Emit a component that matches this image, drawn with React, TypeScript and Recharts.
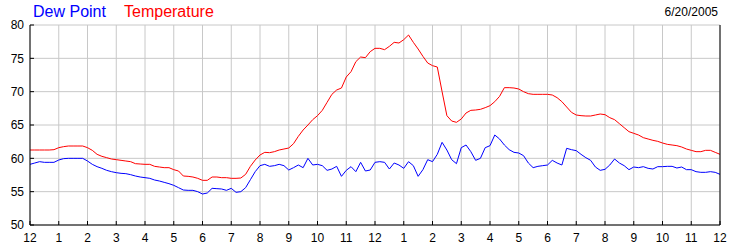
import { LineChart, Line, XAxis, YAxis, CartesianGrid } from 'recharts'

// readings every 10 minutes, midnight to midnight
const STEP_MIN = 10

const temperature = [
  61.25, 61.25, 61.25, 61.25, 61.25, 61.3,
  61.6, 61.75, 61.85, 61.85, 61.85, 61.85,
  61.6, 61.2, 60.6, 60.3, 60.1, 59.9,
  59.8, 59.7, 59.6, 59.5, 59.2, 59.15,
  59.1, 59.1, 58.8, 58.7, 58.6, 58.6,
  58.3, 58.1, 57.35, 57.3, 57.2, 57.0,
  56.7, 56.7, 57.2, 57.2, 57.1, 57.1,
  57.0, 57.0, 57.05, 57.6, 58.8, 59.75,
  60.5, 60.9, 60.85, 61.0, 61.25, 61.4,
  61.55, 62.2, 63.3, 64.25, 65.0, 65.8,
  66.4, 67.2, 68.4, 69.6, 70.25, 70.55,
  72.2, 73.0, 74.5, 75.2, 75.1, 76.0,
  76.5, 76.5, 76.3, 76.8, 77.4, 77.3,
  77.8, 78.5, 77.4, 76.4, 75.3, 74.3,
  73.9, 73.7, 70.0, 66.4, 65.6, 65.4,
  65.9, 66.8, 67.2, 67.25, 67.35, 67.6,
  67.9, 68.5, 69.3, 70.6, 70.6, 70.55,
  70.4, 70.0, 69.7, 69.6, 69.6, 69.6,
  69.6, 69.5, 69.1, 68.5, 67.7, 66.9,
  66.5, 66.4, 66.35, 66.35, 66.5, 66.65,
  66.55, 66.1, 65.8, 65.2, 64.6, 64.0,
  63.75, 63.5, 63.1, 62.9, 62.7, 62.55,
  62.3, 62.1, 62.0, 61.9, 61.7, 61.4,
  61.2, 61.0, 61.0, 61.2, 61.2, 60.9,
  60.6,
]

const dewPoint = [
  59.1, 59.3, 59.5, 59.4, 59.4, 59.4,
  59.75, 59.95, 60.0, 60.0, 60.0, 60.0,
  59.6, 59.1, 58.75, 58.5, 58.2, 58.0,
  57.85, 57.75, 57.7, 57.55, 57.35, 57.2,
  57.1, 57.0, 56.75, 56.6, 56.4, 56.2,
  55.95, 55.6, 55.25, 55.2, 55.2, 55.0,
  54.65, 54.8, 55.5, 55.45, 55.4, 55.2,
  55.5, 54.9, 55.0, 55.6, 56.8, 58.0,
  58.9, 59.1, 58.8, 58.9, 59.1, 58.9,
  58.25, 58.6, 59.0, 58.6, 60.0, 59.0,
  59.1, 58.9, 58.2, 58.4, 58.8, 57.3,
  58.2, 58.75, 58.0, 59.4, 58.1, 58.25,
  59.4, 59.5, 59.4, 58.4, 59.3, 59.0,
  58.5, 59.5, 58.9, 57.3, 58.3, 59.8,
  59.5, 60.6, 62.4, 61.25, 59.8, 59.2,
  61.6, 62.0, 61.0, 59.7, 60.0, 61.6,
  61.9, 63.5, 62.9, 62.0, 61.3, 60.9,
  60.8, 60.4, 59.3, 58.6, 58.8, 58.9,
  59.0, 59.7, 59.3, 59.0, 61.5, 61.3,
  61.15, 60.6, 60.1, 59.7, 58.7, 58.2,
  58.35, 59.0, 59.9, 59.3, 58.9, 58.3,
  58.7, 58.6, 58.75, 58.5, 58.4, 58.75,
  58.75, 58.8, 58.8, 58.55, 58.7, 58.3,
  58.3, 58.0, 57.9, 57.9, 58.0, 57.9,
  57.6,
]

const hourTicks = [0, 1, 2, 3, 4, 5, 6, 7, 8, 9, 10, 11, 12, 13, 14, 15, 16, 17, 18, 19, 20, 21, 22, 23, 24]
const hourLabels = ['12', '1', '2', '3', '4', '5', '6', '7', '8', '9', '10', '11', '12', '1', '2', '3', '4', '5', '6', '7', '8', '9', '10', '11', '12']
const tempTicks = [50, 55, 60, 65, 70, 75, 80]

const data = temperature.map((t, i) => ({
  hour: (i * STEP_MIN) / 60,
  temp: t,
  dew: dewPoint[i],
}))

const FONT = '"Liberation Sans", Arial, sans-serif'
const TICK_LEN = 4
const X_GAP = 8
const Y_GAP = 6

function BottomTick({ x, y, payload }: any) {
  const axisY = y - X_GAP
  return (
    <g>
      <line x1={x} x2={x} y1={axisY} y2={axisY - TICK_LEN} stroke="#000" />
      <text x={x} y={y} dy="0.71em" textAnchor="middle" fontSize={12} fontFamily={FONT} fill="#000">
        {hourLabels[hourTicks.indexOf(payload.value)]}
      </text>
    </g>
  )
}

function TopTick({ x, y }: any) {
  return <line x1={x} x2={x} y1={y} y2={y + TICK_LEN} stroke="#000" />
}

function LeftTick({ x, y, payload }: any) {
  const axisX = x + Y_GAP
  return (
    <g>
      <line x1={axisX} x2={axisX + TICK_LEN} y1={y} y2={y} stroke="#000" />
      <text x={x} y={y} dy="0.355em" textAnchor="end" fontSize={12} fontFamily={FONT} fill="#000">
        {payload.value}
      </text>
    </g>
  )
}

function RightTick({ x, y, payload }: any) {
  const axisX = x - Y_GAP
  return (
    <g>
      <line x1={axisX} x2={axisX - TICK_LEN} y1={y} y2={y} stroke="#000" />
      <text x={x} y={y} dy="0.355em" textAnchor="start" fontSize={12} fontFamily={FONT} fill="#000">
        {payload.value}
      </text>
    </g>
  )
}

export default function App() {
  return (
    <div style={{ position: 'absolute', left: 0, top: 0, width: 750, height: 250, background: '#fff' }}>
      <LineChart width={750} height={250} data={data} margin={{ top: 25, right: 0, bottom: 0, left: 0 }}>
        <CartesianGrid stroke="#c8c8c8" />
        <XAxis
          dataKey="hour"
          type="number"
          domain={[0, 24]}
          ticks={hourTicks}
          height={25}
          tickSize={0}
          tickMargin={X_GAP}
          tickLine={false}
          axisLine={{ stroke: '#000' }}
          tick={<BottomTick />}
          interval={0}
        />
        <XAxis
          xAxisId="top"
          orientation="top"
          dataKey="hour"
          type="number"
          domain={[0, 24]}
          ticks={hourTicks}
          height={0}
          tickSize={0}
          tickMargin={0}
          tickLine={false}
          axisLine={{ stroke: '#000' }}
          tick={<TopTick />}
          interval={0}
        />
        <YAxis
          domain={[50, 80]}
          ticks={tempTicks}
          width={30}
          tickSize={0}
          tickMargin={Y_GAP}
          tickLine={false}
          axisLine={{ stroke: '#000' }}
          tick={<LeftTick />}
          interval={0}
        />
        <YAxis
          yAxisId="right"
          orientation="right"
          domain={[50, 80]}
          ticks={tempTicks}
          width={30}
          tickSize={0}
          tickMargin={Y_GAP}
          tickLine={false}
          axisLine={{ stroke: '#000' }}
          tick={<RightTick />}
          interval={0}
        />
        <Line type="linear" dataKey="dew" stroke="#0000ff" strokeWidth={1} dot={false} isAnimationActive={false} />
        <Line type="linear" dataKey="temp" stroke="#ff0000" strokeWidth={1} dot={false} isAnimationActive={false} />
      </LineChart>
      <span style={{ position: 'absolute', left: 33, top: 4, fontFamily: FONT, fontSize: 16, lineHeight: '16px', color: '#0000ff', whiteSpace: 'nowrap' }}>
        Dew Point
      </span>
      <span style={{ position: 'absolute', left: 124, top: 4, fontFamily: FONT, fontSize: 16, lineHeight: '16px', color: '#ff0000', whiteSpace: 'nowrap' }}>
        Temperature
      </span>
      <span style={{ position: 'absolute', right: 32, top: 6, fontFamily: FONT, fontSize: 12, lineHeight: '12px', color: '#000', whiteSpace: 'nowrap' }}>
        6/20/2005
      </span>
    </div>
  )
}
